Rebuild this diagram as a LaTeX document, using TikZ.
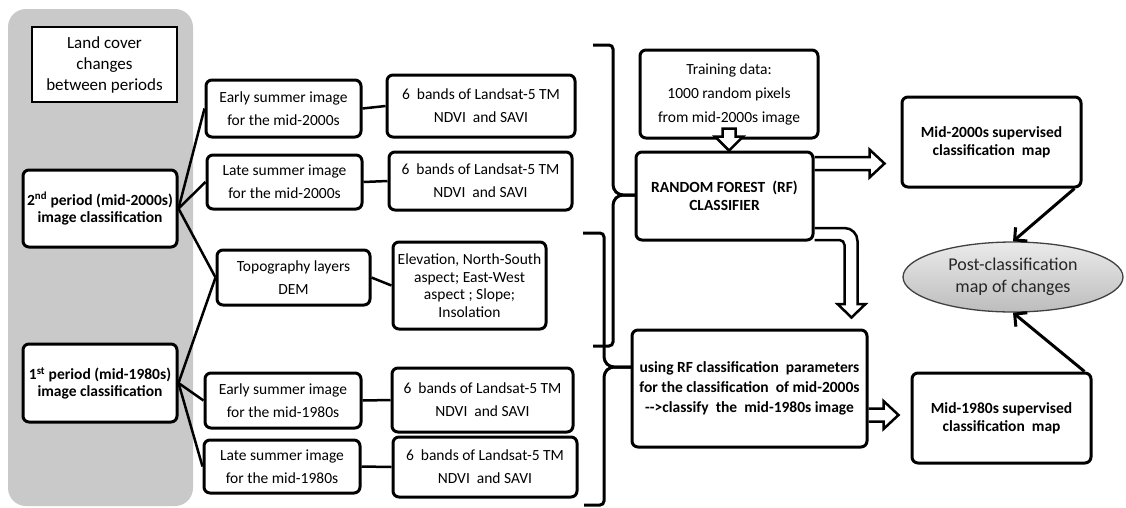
\documentclass[tikz,border=0pt]{standalone}
\usepackage{fontspec}
\setmainfont{Carlito}
\usetikzlibrary{calc,shapes.geometric,arrows.meta}
\pgfdeclarelayer{back}
\pgfsetlayers{back,main}
\def\hollowright(#1)(#2){\draw[hollow] ($(#1)+(0,-6.5)$) -- ($(#2)+(-15,-6.5)$) -- ($(#2)+(-15,-14)$) -- (#2) -- ($(#2)+(-15,14)$) -- ($(#2)+(-15,6.5)$) -- ($(#1)+(0,6.5)$);}
\def\hollowdown(#1)(#2){\draw[hollow] ($(#1)+(-6.5,0)$) -- ($(#2)+(-6.5,-14)$) -- ($(#2)+(-14,-14)$) -- (#2) -- ($(#2)+(14,-14)$) -- ($(#2)+(6.5,-14)$) -- ($(#1)+(6.5,0)$) -- cycle;}
\tikzset{
	box/.style={draw, line width=3pt, rounded corners=6pt, fill=white, align=center, inner sep=2pt, font=\fontsize{15.5}{23}\selectfont},
	boldbox/.style={box, font=\bfseries\fontsize{15.5}{17}\selectfont},
	link/.style={line width=2.5pt},
	hollow/.style={line width=2.5pt, fill=white, line join=miter},
	bracket/.style={line width=3pt, rounded corners=4pt},
	tochange/.style={line width=3pt, -{Straight Barb[length=9pt,width=18pt]}},
}

\begin{document}
\begin{tikzpicture}[x=1pt, y=-1pt]
			%%%%% START %%%%%
			\useasboundingbox (0,0) rectangle (1126,507);
			\fill[black!21, rounded corners=18pt] (8,9) rectangle (193,506);
			
			\node[draw, line width=1.8pt, fill=white, align=center, minimum width=145pt, minimum height=75pt, font=\fontsize{17}{21}\selectfont] (land) at (104.5,64.5) {Land cover\\changes\\between periods};
			\node[boldbox, minimum width=154pt, minimum height=77pt] (p2) at (100,208.5) {2\textsuperscript{nd} period (mid-2000s)\\image classification};
			\node[boldbox, minimum width=154pt, minimum height=78pt] (p1) at (100,383) {1\textsuperscript{st} period (mid-1980s)\\image classification};
			
			\node[box, minimum width=155pt, minimum height=57pt] (e2) at (283.5,108.5) {Early summer image\\for the mid-2000s};
			\node[box, minimum width=155pt, minimum height=54pt] (l2) at (284.5,182) {Late summer image\\for the mid-2000s};
			\node[box, minimum width=153pt, minimum height=55pt] (topo) at (293.5,277.5) {Topography layers\\DEM};
			\node[box, minimum width=156pt, minimum height=55pt] (e1) at (283,400.5) {Early summer image\\for the mid-1980s};
			\node[box, minimum width=156pt, minimum height=53pt] (l1) at (282,466.5) {Late summer image\\for the mid-1980s};
			
			\node[box, minimum width=188pt, minimum height=62pt] (b1) at (481,106) {6~ bands of Landsat-5 TM\\NDVI~ and SAVI};
			\node[box, minimum width=183pt, minimum height=58pt] (b2) at (480.5,181) {6~ bands of Landsat-5 TM\\NDVI~ and SAVI};
			\node[box, minimum width=153pt, minimum height=87pt, font=\fontsize{15.5}{17.5}\selectfont] (elev) at (469.5,285.5) {Elevation, North-South\\aspect; East-West\\aspect ; Slope;\\Insolation};
			\node[box, minimum width=181pt, minimum height=64pt] (b3) at (482.5,400) {6~ bands of Landsat-5 TM\\NDVI~ and SAVI};
			\node[box, minimum width=184pt, minimum height=60pt] (b4) at (485,467) {6~ bands of Landsat-5 TM\\NDVI~ and SAVI};
			
			\node[box, minimum width=178pt, minimum height=88pt, font=\fontsize{15.5}{24}\selectfont] (train) at (729,94) {Training data:\\1000 random pixels\\from mid-2000s image};
			\node[boldbox, minimum width=177pt, minimum height=88pt, font=\bfseries\fontsize{15.5}{18}\selectfont] (rf) at (724.5,196) {RANDOM FOREST~ (RF)\\CLASSIFIER};
			\node[boldbox, minimum width=235pt, minimum height=117pt, font=\bfseries\fontsize{15.5}{20}\selectfont] (userf) at (749.5,388.5) {using RF classification~ parameters\\for the classification~ of mid-2000s\\\mbox{-}\mbox{-}\mbox{>}classify~ the~ mid-1980s image};
			
			\node[boldbox, minimum width=179pt, minimum height=90pt, font=\bfseries\fontsize{15.5}{18}\selectfont] (m2000) at (991.5,142) {Mid-2000s supervised\\classification~ map};
			\node[boldbox, minimum width=179pt, minimum height=90pt, font=\bfseries\fontsize{15.5}{18}\selectfont] (m1980) at (1001.5,418) {Mid-1980s supervised\\classification~ map};
			\node[ellipse, draw=black!75, line width=1.3pt, top color=black!8, bottom color=black!26, minimum width=220pt, minimum height=70pt, inner sep=0pt, align=center, text=black!85, font=\fontsize{18}{22}\selectfont] (post) at (1013,277) {Post-classification\\map of changes};
			
			\draw[link] (p2.east) -- (e2.west);
			\draw[link] (p2.east) -- (l2.west);
			\draw[link] (p2.east) -- (topo.west);
			\draw[link] (p1.east) -- (topo.west);
			\draw[link] (p1.east) -- (e1.west);
			\draw[link] (p1.east) -- (l1.west);
			
			\draw[link] (e2.east) -- (b1.west);
			\draw[link] (l2.east) -- (b2.west);
			\draw[link] (topo.east) -- (elev.west);
			\draw[link] (e1.east) -- (b3.west);
			\draw[link] (l1.east) -- (b4.west);
			
			\draw[bracket] (593,45) -- (613,45) -- (613,189) -- (619,195) -- (635,195);
			\draw[bracket] (635,195) -- (619,195) -- (613,201) -- (613,346) -- (593,346);
			\draw[bracket] (583,233) -- (604,233) -- (604,361) -- (610,367) -- (631,367);
			\draw[bracket] (631,367) -- (610,367) -- (604,373) -- (604,505) -- (584,505);
			
			\coordinate (tr1) at ($(train.south)+(0,-11)$);
			\coordinate (tr2) at (train.south |- rf.north);
			\hollowdown(tr1)(tr2)
			
			\coordinate (a1) at ($(rf.north east)+(0,13)$);
			\coordinate (a2) at ($(a1 -| m2000.west)+(-16,0)$);
			\coordinate (c1) at ($(userf.east)+(0,26.5)$);
			\coordinate (c2) at ($(c1 -| m1980.west)+(-12,0)$);
			\begin{pgfonlayer}{back}
				\hollowright(a1)(a2)
				\hollowright(c1)(c2)
				\begin{scope}[shift={(rf.south east)}]
					\draw[hollow] (0,-13.5) [rounded corners=13pt] -- (43,-13.5) -- (43,30) [sharp corners] -- (43,62.5) -- (51,62.5) -- (37,76) -- (23,62.5) -- (30,62.5) -- (30,30) [rounded corners=5pt] -- (30,-1.5) -- (0,-1.5);
				\end{scope}
			\end{pgfonlayer}
			
			\draw[tochange] ($(m2000.south east)+(-8,0)$) -- (post.north);
			\draw[tochange] ($(m1980.north east)+(-8,0)$) -- (post.south);
			%%%%% END %%%%%
\end{tikzpicture}
\end{document}
